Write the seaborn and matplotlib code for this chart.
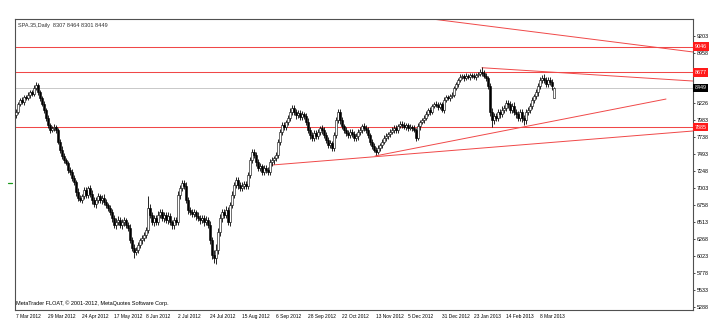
import matplotlib
matplotlib.use("Agg")
import matplotlib.pyplot as plt
from matplotlib.lines import Line2D
import matplotlib.transforms as mtransforms
import seaborn as sns
import pandas as pd

sns.set_style("white")
plt.rcParams['font.family'] = ['Liberation Sans', 'DejaVu Sans']

# ---------------- data ----------------
symbol = "SPA.35,Daily"
first_open = 8060
closes = [
    8102, 8217, 8275, 8246, 8318, 8304, 8347, 8390, 8362, 8448,
    8491, 8390, 8304, 8217, 8131, 8015, 7914, 7842, 7871, 7885,
    7842, 7669, 7554, 7467, 7409, 7366, 7265, 7236, 7149, 7092,
    6947, 6861, 6832, 6890, 6976, 6904, 7005, 6919, 6832, 6774,
    6832, 6890, 6832, 6861, 6803, 6760, 6717, 6659, 6572, 6471,
    6515, 6543, 6471, 6515, 6543, 6471, 6428, 6255, 6139, 6082,
    6111, 6183, 6255, 6284, 6327, 6399, 6717, 6616, 6515, 6572,
    6515, 6616, 6659, 6572, 6616, 6543, 6601, 6515, 6471, 6543,
    6515, 6904, 7005, 7077, 7034, 6832, 6688, 6659, 6630, 6659,
    6601, 6572, 6543, 6572, 6515, 6543, 6471, 6255, 6038, 5995,
    6111, 6370, 6572, 6659, 6616, 6688, 6515, 6760, 6904, 7049,
    7121, 7049, 7005, 7034, 7063, 7034, 7193, 7409, 7525, 7481,
    7380, 7294, 7323, 7236, 7294, 7265, 7236, 7380, 7409, 7438,
    7481, 7669, 7813, 7914, 7885, 7958, 8015, 8102, 8160, 8102,
    8058, 8087, 8030, 8073, 8044, 7958, 7842, 7770, 7727, 7799,
    7756, 7813, 7871, 7842, 7770, 7698, 7626, 7655, 7582, 7770,
    7986, 8102, 7986, 7900, 7842, 7799, 7770, 7813, 7784, 7727,
    7756, 7813, 7842, 7900, 7871, 7842, 7770, 7669, 7611, 7554,
    7525, 7582, 7626, 7669, 7727, 7756, 7784, 7813, 7842, 7871,
    7842, 7900, 7929, 7914, 7885, 7914, 7871, 7885, 7871, 7842,
    7727, 7900, 7958, 7986, 8015, 8073, 8131, 8102, 8188, 8217,
    8203, 8174, 8217, 8131, 8275, 8318, 8304, 8333, 8347, 8448,
    8506, 8564, 8607, 8621, 8593, 8621, 8607, 8636, 8621, 8607,
    8636, 8650, 8679, 8665, 8621, 8593, 8477, 8102, 7986, 8044,
    8015, 8102, 8073, 8131, 8160, 8232, 8217, 8131, 8188, 8102,
    8073, 8015, 8102, 8015, 7986, 8102, 8131, 8188, 8275, 8333,
    8390, 8477, 8564, 8593, 8564, 8506, 8564, 8535, 8477, 8449,
]
up_wick = [
    40, 35, 30, 45, 25, 30, 40, 35, 30, 45, 50, 30, 25, 35, 40, 30, 45, 35, 30, 40,
    35, 30, 45, 60, 40, 35, 30, 50, 45, 40, 35, 55, 40, 30, 45, 50, 35, 40, 60, 45,
    50, 40, 35, 45, 55, 40, 35, 50, 45, 40, 55, 60, 45, 40, 50, 35, 45, 60, 50, 55,
    45, 40, 35, 50, 45, 40, 180, 60, 50, 45, 40, 55, 45, 50, 40, 45, 55, 40, 35, 50,
    45, 60, 40, 50, 45, 55, 40, 45, 50, 40, 35, 60, 45, 50, 40, 55, 45, 60, 50, 70,
    80, 60, 55, 50, 45, 60, 50, 45, 55, 40, 50, 45, 40, 55, 50, 45, 40, 50, 45, 40,
    45, 50, 40, 35, 45, 40, 50, 45, 40, 35, 45, 40, 50, 45, 40, 35, 45, 55, 50, 45,
    40, 45, 50, 40, 35, 45, 60, 45, 40, 50, 45, 40, 35, 45, 40, 50, 45, 40, 35, 45,
    50, 40, 45, 40, 35, 45, 40, 50, 45, 40, 50, 45, 40, 35, 40, 45, 40, 35, 45, 50,
    45, 40, 35, 40, 45, 40, 35, 40, 45, 50, 40, 35, 40, 45, 40, 35, 30, 40, 35, 40,
    35, 40, 30, 35, 40, 45, 35, 40, 30, 35, 40, 45, 35, 30, 40, 35, 30, 35, 40, 35,
    30, 35, 40, 30, 35, 40, 35, 30, 35, 40, 35, 30, 40, 72, 45, 40, 35, 50, 60, 45,
    50, 45, 40, 55, 50, 45, 40, 50, 45, 55, 50, 45, 40, 50, 45, 40, 50, 45, 40, 35,
    45, 40, 50, 45, 60, 40, 50, 45, 40, 15,
]
dn_wick = [
    40, 30, 35, 30, 40, 35, 30, 40, 35, 30, 35, 40, 45, 35, 40, 45, 50, 40, 35, 45,
    40, 35, 50, 45, 40, 35, 45, 50, 40, 45, 50, 40, 35, 45, 50, 40, 45, 50, 55, 45,
    50, 45, 40, 55, 50, 45, 40, 50, 55, 45, 50, 40, 45, 50, 55, 45, 40, 50, 45, 87,
    50, 45, 40, 55, 45, 50, 40, 45, 50, 55, 45, 40, 50, 45, 55, 40, 50, 45, 55, 50,
    45, 50, 55, 45, 50, 40, 55, 50, 45, 50, 55, 45, 50, 40, 55, 50, 45, 55, 60, 72,
    80, 60, 50, 55, 45, 50, 40, 55, 45, 50, 45, 55, 40, 45, 50, 40, 45, 50, 40, 45,
    50, 45, 40, 45, 50, 40, 45, 50, 55, 60, 45, 40, 45, 50, 40, 45, 50, 45, 40, 45,
    50, 45, 40, 45, 50, 40, 45, 60, 50, 45, 40, 45, 50, 55, 45, 40, 50, 45, 40, 45,
    40, 45, 50, 40, 45, 40, 50, 45, 40, 45, 50, 55, 45, 40, 50, 45, 40, 45, 40, 35,
    40, 35, 45, 40, 35, 40, 45, 40, 35, 40, 45, 40, 35, 40, 35, 40, 45, 35, 40, 35,
    40, 35, 60, 35, 40, 35, 30, 40, 35, 30, 35, 40, 30, 35, 40, 35, 30, 40, 35, 30,
    35, 40, 30, 35, 40, 30, 35, 40, 30, 35, 40, 35, 30, 40, 35, 40, 45, 60, 101, 55,
    50, 45, 55, 50, 45, 50, 55, 45, 50, 45, 55, 50, 45, 60, 72, 50, 45, 40, 45, 40,
    45, 50, 40, 45, 50, 40, 45, 50, 55, 15,
]
last_bar = [8307, 8464, 8301, 8449]  # O H L C of the last bar

date_labels = ["7 Mar 2012", "29 Mar 2012", "24 Apr 2012", "17 May 2012", "8 Jun 2012",
               "2 Jul 2012", "24 Jul 2012", "15 Aug 2012", "6 Sep 2012", "28 Sep 2012",
               "22 Oct 2012", "13 Nov 2012", "5 Dec 2012", "31 Dec 2012", "23 Jan 2013",
               "14 Feb 2013", "8 Mar 2013"]
date_bar_index = [0, 16, 33, 49, 65, 81, 97, 113, 130, 146, 163, 180, 196, 213, 229, 245, 262]

# visible price-scale labels (8713 and 8470 are hidden under the price boxes)
price_ticks = ["9203", "8958", "8226", "7983", "7738", "7493", "7248",
               "7003", "6758", "6513", "6268", "6023", "5778", "5533", "5288"]

red_levels = [9046, 8677, 7885]
current_price = 8449

# trend lines: (bar index, price) start and end
trend_x0 = [208, 233, 128, 179.5]
trend_y0 = [9444, 8741, 7337, 7467]
trend_x1 = [338.5, 338.5, 338.5, 325]
trend_y1 = [8968, 8549, 7828, 8289]

# ---------------- build OHLC ----------------
n = len(closes)
opens = [first_open] + closes[:-1]
opens[-1] = last_bar[0]
highs = [max(o, c) + u for o, c, u in zip(opens, closes, up_wick)]
lows = [min(o, c) - d for o, c, d in zip(opens, closes, dn_wick)]
highs[-1] = last_bar[1]
lows[-1] = last_bar[2]
closes[-1] = last_bar[3]
df = pd.DataFrame({"i": range(n), "open": opens, "high": highs, "low": lows, "close": closes})

# ---------------- figure ----------------
W, H = 712, 326
fig = plt.figure(figsize=(W / 100, H / 100), dpi=100)
fig.patch.set_facecolor("white")
left, right, top, bottom = 15, 692.5, 19, 310
ax = fig.add_axes([left / W, (H - bottom) / H, (right - left) / W, (bottom - top) / H])
ax.set_facecolor("white")

ax.set_xlim(-0.5, 338.25)
ax.set_ylim(5245, 9444)

line_red = "#f04848"

# horizontal levels
for lv in red_levels:
    ax.axhline(lv, color=line_red, lw=0.75, zorder=1)
ax.axhline(current_price, color="#c8c8c8", lw=0.7, zorder=1)

# trend lines via seaborn
for k in range(len(trend_x0)):
    tl = pd.DataFrame({"x": [trend_x0[k], trend_x1[k]], "y": [trend_y0[k], trend_y1[k]]})
    sns.lineplot(data=tl, x="x", y="y", ax=ax, color=line_red, lw=0.7, zorder=1)

# candles
ax.vlines(df["i"], df["low"], df["high"], color="black", lw=0.6, zorder=2)
up = df["close"] >= df["open"]
ax.bar(df["i"][up], (df["close"] - df["open"])[up].clip(lower=4), bottom=df["open"][up],
       width=0.8, color="white", edgecolor="black", linewidth=0.4, zorder=3)
ax.bar(df["i"][~up], (df["open"] - df["close"])[~up].clip(lower=4), bottom=df["close"][~up],
       width=0.8, color="black", edgecolor="black", linewidth=0.4, zorder=3)

ax.set_xlabel("")
ax.set_ylabel("")

# spines
for s in ax.spines.values():
    s.set_color("#505050")
    s.set_linewidth(0.8)

# y axis on right
ax.yaxis.tick_right()
ax.set_yticks([float(t) for t in price_ticks])
ax.set_yticklabels(price_ticks)
ax.tick_params(axis="y", which="both", length=1.5, width=0.5, pad=1.5, labelsize=3.9,
               colors="black", right=True, left=False)

# x axis
ax.set_xticks(date_bar_index)
ax.set_xticklabels(date_labels, ha="left")
ax.tick_params(axis="x", length=2, width=0.5, pad=1.0, labelsize=3.5, colors="black")

# price labels on right
trans = mtransforms.blended_transform_factory(ax.transAxes, ax.transData)
for lv in red_levels:
    ax.text(1.003, lv, f"{lv}", transform=trans, ha="left", va="center", fontsize=3.9,
            color="white", zorder=10, clip_on=False,
            bbox=dict(boxstyle="square,pad=0.35", fc="#ff1a1a", ec="none"))
ax.text(1.003, current_price, f"{current_price}", transform=trans, ha="left", va="center",
        fontsize=3.9, color="white", zorder=10, clip_on=False,
        bbox=dict(boxstyle="square,pad=0.35", fc="black", ec="none"))

# title and footer
ax.text(0.004, 0.985, f"{symbol}  {last_bar[0]} {last_bar[1]} {last_bar[2]} {last_bar[3]}",
        transform=ax.transAxes, ha="left", va="top", fontsize=4.0, color="#303030")
ax.text(0.002, 0.015, "MetaTrader FLOAT, \u00a9 2001-2012, MetaQuotes Software Corp.",
        transform=ax.transAxes, ha="left", va="bottom", fontsize=4.0, color="black")

# small green marker at left
fig.add_artist(Line2D([8 / W, 12 / W], [(H - 183) / H] * 2, color="#1a9a1a", lw=0.9))

fig.savefig("out.png", dpi=100, facecolor="white")
